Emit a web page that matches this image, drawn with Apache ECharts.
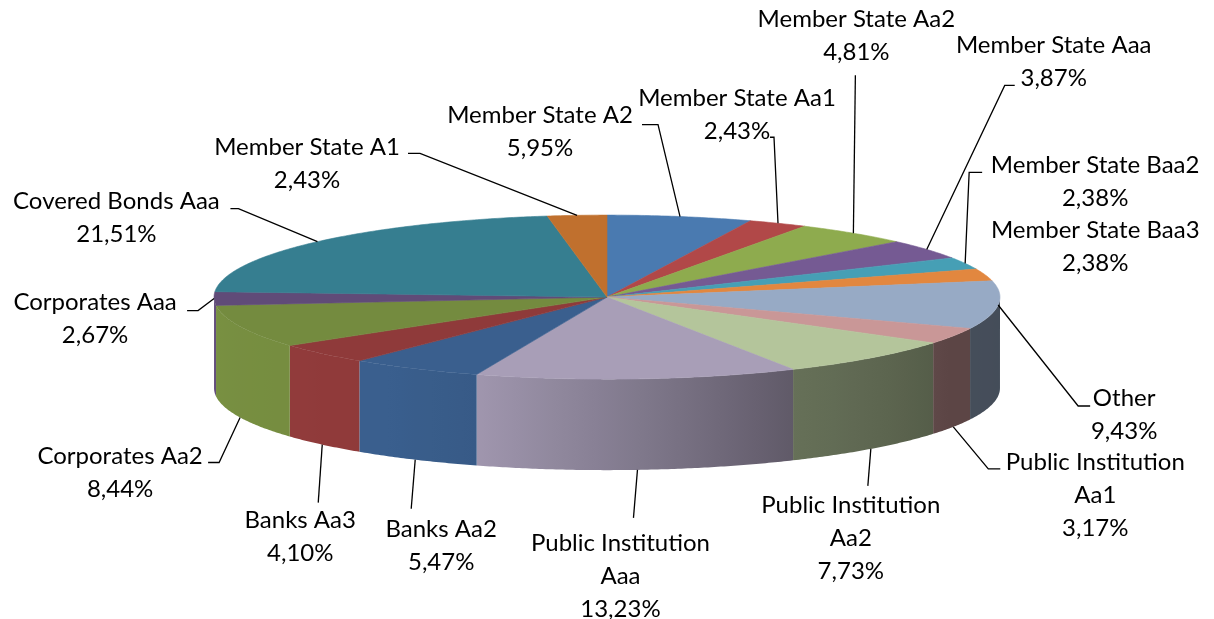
<!DOCTYPE html>
<html>
<head>
<meta charset="utf-8">
<script src="https://cdn.jsdelivr.net/npm/echarts@6/dist/echarts.min.js"></script>
<style>
  html, body { margin: 0; background: #fff; }
  #chart { width: 1214px; height: 619px; }
</style>
</head>
<body>
<div id="chart"></div>
<script>
// slices, clockwise from 12 o'clock
const names = [
  "Member State A2", "Member State Aa1", "Member State Aa2", "Member State Aaa",
  "Member State Baa2", "Member State Baa3", "Other", "Public Institution Aa1",
  "Public Institution Aa2", "Public Institution Aaa", "Banks Aa2", "Banks Aa3",
  "Corporates Aa2", "Corporates Aaa", "Covered Bonds Aaa", "Member State A1"
];
const values = [5.95, 2.43, 4.81, 3.87, 2.38, 2.38, 9.43, 3.17, 7.73, 13.23, 5.47, 4.10, 8.44, 2.67, 21.51, 2.43];
const topColors = [
  "#4a7ab0", "#b14848", "#8eab4e", "#755a93", "#469fb5", "#e2873f", "#97aac5", "#c99797",
  "#b4c59b", "#a89eb7", "#3a5f8e", "#8f3a3a", "#748b3f", "#604b78", "#367e90", "#c0702e"
];
// label block centre and leader elbow, offset from the slice anchor: [bx, by, ex, ey, tick]
const labelLayout = [
  [-140, -85, -22, -92, -16], [-41, -109, -4, -86, -4], [3, -197, 2, -158, 0], [127, -188, 78, -164, 10],
  [130, -82, 4, -91, 13], [110, -28], [126, 110, 80, 101, 12], [142, 68, 35, 42, 12],
  [-20, 89, -3, 37, 0], [-17, 106, -4, 48, 0], [26, 86, -4, 49, 0], [-22, 92, -4, 58, 0],
  [-120, 55, -21, 45, -11], [-119, 20, -16, 12, -11], [-201, -24, -79, -33, -8], [-270, -52, -157, -62, -12]
];

const total = values.reduce((a, b) => a + b, 0);
const starts = [];
let acc = 0;
values.forEach((v) => { starts.push(acc); acc += v; });

// side wall lighting by angle
const light = [[90, 0.45], [120, 0.46], [137, 0.52], [152, 0.57], [175, 0.76], [199, 0.95], [215, 1.0], [270, 1.04]];
function lightAt(a) {
  for (let k = 1; k < light.length; k++) {
    if (a <= light[k][0]) {
      const t = (a - light[k - 1][0]) / (light[k][0] - light[k - 1][0]);
      return light[k - 1][1] + t * (light[k][1] - light[k - 1][1]);
    }
  }
  return light[light.length - 1][1];
}
function shade(hex, f) {
  const n = parseInt(hex.slice(1), 16);
  const c = [(n >> 16) & 255, (n >> 8) & 255, n & 255].map((v) => Math.max(0, Math.min(255, Math.round(v * f))));
  return "rgb(" + c.join(",") + ")";
}

function renderItem(params, api) {
  const i = params.dataIndex;
  const W = api.getWidth(), H = api.getHeight();
  const cx = W * 0.5, cy = H * 0.48, rx = W * 0.3237, ry = H * 0.1325, depth = H * 0.147;
  const a0 = starts[i] / total * 360;
  const a1 = (starts[i] + api.value(0)) / total * 360;
  const pt = (a, dy) => {
    const r = a * Math.PI / 180;
    return [cx + rx * Math.sin(r), cy - ry * Math.cos(r) + (dy || 0)];
  };
  const arc = (s, e, dy) => {
    const n = Math.max(2, Math.ceil((e - s) / 0.5));
    const out = [];
    for (let k = 0; k <= n; k++) out.push(pt(s + (e - s) * k / n, dy));
    return out;
  };
  const children = [];

  // side wall (front half only)
  const s = Math.max(a0, 90), e = Math.min(a1, 270);
  if (e > s) {
    const pts = arc(s, e, 0).concat(arc(s, e, depth).reverse());
    const xl = pt(e)[0], xr = pt(s)[0];
    const stops = [];
    for (let k = 0; k <= 8; k++) {
      const a = e - (e - s) * k / 8;
      stops.push({ offset: (pt(a)[0] - xl) / (xr - xl), color: shade(topColors[i], lightAt(a)) });
    }
    children.push({
      type: "polygon", z2: 1, shape: { points: pts },
      style: { fill: new echarts.graphic.LinearGradient(xl, 0, xr, 0, stops, true) }
    });
  }

  // top face
  children.push({
    type: "polygon", z2: 5, shape: { points: [[cx, cy]].concat(arc(a0, a1, 0)) },
    style: { fill: topColors[i], stroke: topColors[i], lineWidth: 0.6 }
  });

  // label + leader line
  const mid = (a0 + a1) / 2;
  const front = mid > 90 && mid < 270 && Math.abs(Math.sin(mid * Math.PI / 180)) < 0.95;
  const anc = pt(mid, front ? depth : 0);
  const lay = labelLayout[i];
  if (lay.length > 2) {
    const el = [anc[0] + lay[2], anc[1] + lay[3]];
    children.push({
      type: "polyline", z2: 10,
      shape: { points: [anc, el, [el[0] + lay[4], el[1]]] },
      style: { stroke: "#000", lineWidth: 1.3, fill: null }
    });
  }
  const pct = api.value(0).toFixed(2).replace(".", ",") + "%";
  children.push({
    type: "text", z2: 10,
    style: {
      text: names[i].replace("Public Institution ", "Public Institution\n") + "\n" + pct,
      x: anc[0] + lay[0], y: anc[1] + lay[1],
      align: "center", verticalAlign: "middle",
      font: "24px Lato", lineHeight: 33, fill: "#000"
    }
  });
  return { type: "group", children: children };
}

const chart = echarts.init(document.getElementById("chart"));
chart.setOption({
  animation: false,
  series: [{
    type: "custom",
    coordinateSystem: "none",
    silent: true,
    renderItem: renderItem,
    data: values.map((v, i) => ({ name: names[i], value: v }))
  }]
});
</script>
</body>
</html>
